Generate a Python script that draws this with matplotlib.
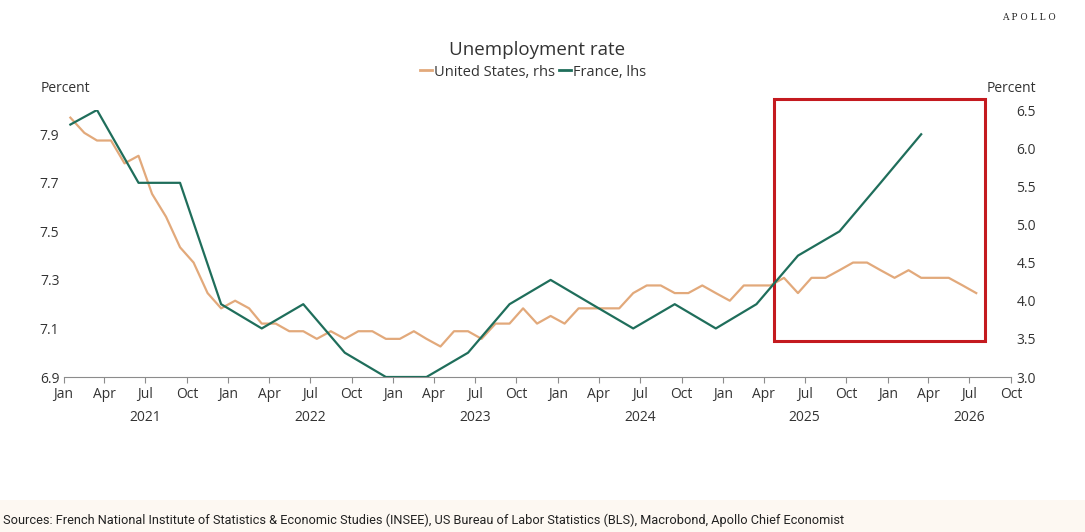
import pandas as pd
import matplotlib
matplotlib.use("Agg")
import matplotlib.pyplot as plt
from matplotlib import dates as mdates
from matplotlib.patches import Rectangle

plt.rcParams['font.family'] = ['Open Sans', 'DejaVu Sans']

# ---- data ----
# US unemployment, monthly Jan 2021 - Jul 2026 (rhs)
us_start = '2021-01-01'
us_rate = [6.4, 6.2, 6.1, 6.1, 5.8, 5.9, 5.4, 5.1, 4.7, 4.5, 4.1, 3.9,
           4.0, 3.9, 3.7, 3.7, 3.6, 3.6, 3.5, 3.6, 3.5, 3.6, 3.6, 3.5,
           3.5, 3.6, 3.5, 3.4, 3.6, 3.6, 3.5, 3.7, 3.7, 3.9, 3.7, 3.8,
           3.7, 3.9, 3.9, 3.9, 3.9, 4.1, 4.2, 4.2, 4.1, 4.1, 4.2, 4.1,
           4.0, 4.2, 4.2, 4.2, 4.3, 4.1, 4.3, 4.3, 4.4, 4.5, 4.5, 4.4,
           4.3, 4.4, 4.3, 4.3, 4.3, 4.2, 4.1]

# France unemployment, quarterly (lhs)
fr_months = ['2021-01', '2021-03', '2021-06', '2021-09', '2021-12',
             '2022-03', '2022-06', '2022-09', '2022-12',
             '2023-03', '2023-06', '2023-09', '2023-12',
             '2024-03', '2024-06', '2024-09', '2024-12',
             '2025-03', '2025-06', '2025-09', '2025-12', '2026-03']
fr_rate = [7.94, 8.0, 7.7, 7.7, 7.2,
           7.1, 7.2, 7.0, 6.9,
           6.9, 7.0, 7.2, 7.3,
           7.2, 7.1, 7.2, 7.1,
           7.2, 7.4, 7.5, 7.7, 7.9]

# points plotted mid-month
us_dates = pd.date_range(us_start, periods=len(us_rate), freq='MS') + pd.Timedelta(days=15)
fr_dates = pd.to_datetime(fr_months) + pd.Timedelta(days=15)

years = [2021, 2022, 2023, 2024, 2025, 2026]

orange = '#e2a97b'
green = '#1f6e5b'
txt = '#333333'
W, H = 1085, 532

fig = plt.figure(figsize=(W / 100, H / 100), dpi=100)
ax = fig.add_axes([63.6 / W, 155 / H, (1011 - 63.6) / W, 267 / H])
ax2 = ax.twinx()

ax.plot(fr_dates, fr_rate, color=green, lw=1.6, zorder=3)
ax2.plot(us_dates, us_rate, color=orange, lw=1.6, zorder=2)
ax.set_zorder(ax2.get_zorder() + 1)
ax.patch.set_visible(False)

ax.set_xlim(pd.Timestamp('2021-01-01'), pd.Timestamp('2026-10-01'))
ax.set_ylim(6.9, 8.0)
ax2.set_ylim(3.0, 6.5)
ax.set_yticks([6.9, 7.1, 7.3, 7.5, 7.7, 7.9])
ax2.set_yticks([3.0, 3.5, 4.0, 4.5, 5.0, 5.5, 6.0, 6.5])
ax.yaxis.set_major_formatter(matplotlib.ticker.FormatStrFormatter('%.1f'))
ax2.yaxis.set_major_formatter(matplotlib.ticker.FormatStrFormatter('%.1f'))

ax.xaxis.set_major_locator(mdates.MonthLocator(bymonth=[1, 4, 7, 10]))
ax.xaxis.set_major_formatter(mdates.DateFormatter('%b'))

for a in (ax, ax2):
    for s in a.spines.values():
        s.set_visible(False)
ax.spines['bottom'].set_visible(True)
ax.spines['bottom'].set_color('#8c8c8c')
ax.spines['bottom'].set_linewidth(0.8)

ax.tick_params(axis='x', length=4, color='#8c8c8c', width=0.8, pad=3,
               labelsize=10, labelcolor=txt)
ax.tick_params(axis='y', length=0, pad=3, labelsize=10, labelcolor=txt)
ax2.tick_params(axis='y', length=0, pad=4, labelsize=10, labelcolor=txt)

# year labels under July of each year
for y in years:
    ax.text(pd.Timestamp(f'{y}-07-01'), -0.15, str(y), transform=ax.get_xaxis_transform(),
            ha='center', va='center', fontsize=10, color=txt)

# highlight box
x0 = mdates.date2num(pd.Timestamp('2025-04-24'))
x1 = mdates.date2num(pd.Timestamp('2026-08-04'))
rect = Rectangle((x0, 3.47), x1 - x0, 6.65 - 3.47, fill=False,
                 edgecolor='#c41a1f', lw=2.2, clip_on=False, zorder=5)
ax2.add_patch(rect)

# texts
fig.text(537 / W, 1 - 50 / H, 'Unemployment rate', ha='center', va='center',
         fontsize=13.5, color=txt)
fig.text(41 / W, 1 - 88 / H, 'Percent', ha='left', va='center', fontsize=10, color=txt)
fig.text(1036 / W, 1 - 88 / H, 'Percent', ha='right', va='center', fontsize=10, color=txt)
fig.text(1056 / W, 1 - 17 / H, 'A P O L L O', ha='right', va='center', fontsize=6.5,
         family='DejaVu Serif', color='#222222')

handles = [plt.Line2D([], [], color=orange, lw=2), plt.Line2D([], [], color=green, lw=2)]
fig.legend(handles, ['United States, rhs', 'France, lhs'], loc='center',
           bbox_to_anchor=(533 / W, 1 - 72 / H), ncol=2, frameon=False,
           fontsize=10.5, handlelength=0.8, handletextpad=0.15, columnspacing=0.3,
           labelcolor=txt)

# sources band
fig.patches.append(Rectangle((0, 0), 1, 32 / H, transform=fig.transFigure,
                             facecolor='#fdf8f2', edgecolor='none', zorder=0))
fig.text(3 / W, 1 - 520 / H,
         'Sources: French National Institute of Statistics & Economic Studies (INSEE), '
         'US Bureau of Labor Statistics (BLS), Macrobond, Apollo Chief Economist',
         ha='left', va='center', fontsize=9.2, family=['Roboto', 'DejaVu Sans'], color='#222222')

fig.savefig('out.png', dpi=100)
